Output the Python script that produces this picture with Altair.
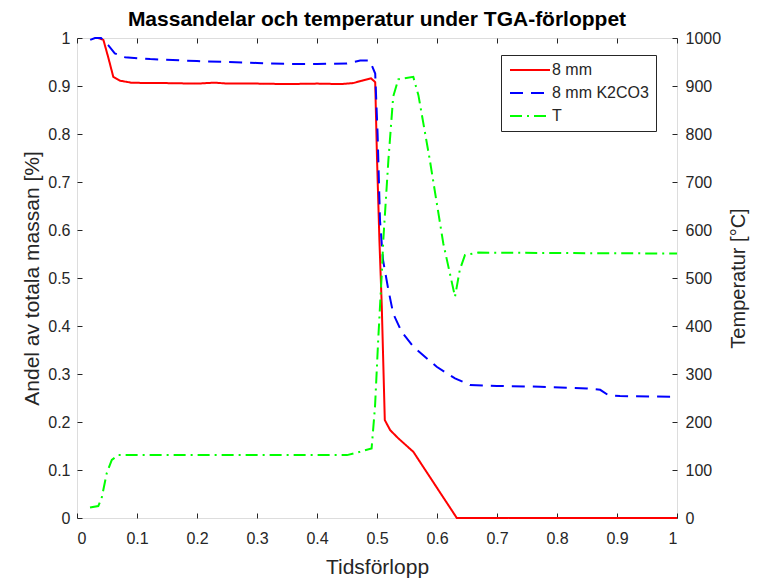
import altair as alt
import pandas as pd

# ---- data ----
time_8mm = [0.035, 0.044, 0.052, 0.0605, 0.072, 0.09, 0.12, 0.15, 0.2, 0.23, 0.25, 0.3, 0.35,
            0.4, 0.44, 0.46, 0.475, 0.49, 0.497, 0.500, 0.504, 0.508, 0.513, 0.522, 0.5355,
            0.5605, 0.633, 0.65, 0.8, 1.0]
mass_8mm = [1.0, 0.996, 0.96, 0.919, 0.911, 0.907, 0.906, 0.906, 0.905, 0.907, 0.905, 0.905, 0.904,
            0.905, 0.904, 0.906, 0.911, 0.916, 0.908, 0.75, 0.579, 0.44, 0.204, 0.183, 0.166,
            0.138, 0.0, 0.0, 0.0, 0.0]

time_k2co3 = [0.022, 0.03, 0.04, 0.052, 0.063, 0.08, 0.122, 0.2, 0.25, 0.3, 0.35, 0.4, 0.45,
              0.472, 0.488, 0.497, 0.501, 0.505, 0.51, 0.519, 0.527, 0.541, 0.5605, 0.5995,
              0.63, 0.655, 0.7, 0.772, 0.85, 0.872, 0.8855, 0.905, 1.0]
mass_k2co3 = [0.996, 1.0, 1.0, 0.985, 0.968, 0.96, 0.956, 0.952, 0.95, 0.948, 0.946, 0.946, 0.947,
              0.953, 0.953, 0.926, 0.8, 0.62, 0.5375, 0.475, 0.426, 0.388, 0.357, 0.315,
              0.291, 0.277, 0.275, 0.2735, 0.27, 0.267, 0.256, 0.254, 0.2527]

time_T = [0.0217, 0.0355, 0.041, 0.0495, 0.058, 0.069, 0.2, 0.3, 0.45, 0.4717, 0.491, 0.4967,
          0.502, 0.508, 0.5105, 0.519, 0.527, 0.5355, 0.5605, 0.569, 0.588, 0.6105, 0.63,
          0.638, 0.6467, 0.669, 0.8, 1.0]
temp_T = [22, 25, 41, 93, 121, 131, 131, 131, 131, 138, 145, 232, 371, 510, 579, 746, 878, 914,
          919, 881, 746, 572, 461, 517, 548, 553, 552, 551]

series_names = ["8 mm", "8 mm K2CO3", "T"]
series_colors = ["#FF0000", "#0000FF", "#00FF00"]
series_dash = [[1, 0], [13, 8], [12, 5, 2, 5]]

x_ticks = [0, 0.1, 0.2, 0.3, 0.4, 0.5, 0.6, 0.7, 0.8, 0.9, 1]
y_ticks = [0, 0.1, 0.2, 0.3, 0.4, 0.5, 0.6, 0.7, 0.8, 0.9, 1]
t_ticks = [0, 100, 200, 300, 400, 500, 600, 700, 800, 900, 1000]

mass_df = pd.DataFrame({
    "t": time_8mm + time_k2co3,
    "v": mass_8mm + mass_k2co3,
    "s": [series_names[0]] * len(time_8mm) + [series_names[1]] * len(time_k2co3),
    "o": list(range(len(time_8mm))) + list(range(len(time_k2co3))),
})
temp_df = pd.DataFrame({
    "t": time_T,
    "v": temp_T,
    "s": [series_names[2]] * len(time_T),
    "o": list(range(len(time_T))),
})

FONT = "Liberation Sans"
TXT = "#262626"

color_enc = alt.Color(
    "s:N",
    scale=alt.Scale(domain=series_names, range=series_colors),
    legend=alt.Legend(
        title=None, orient="none", legendX=424, legendY=17,
        strokeColor=TXT, fillColor="white", padding=7, cornerRadius=0,
        labelFont=FONT, labelFontSize=16, labelColor=TXT,
        symbolType="M-4,0H4", symbolSize=100, symbolStrokeWidth=2,
        symbolOffset=14, labelOffset=14, rowPadding=7, labelLimit=200,
    ),
)
dash_enc = alt.StrokeDash(
    "s:N",
    scale=alt.Scale(domain=series_names, range=series_dash),
    legend=alt.Legend(title=None),
)

axis_common = dict(offset=-5, tickSize=5, domain=False, grid=False,
                   tickColor=TXT, labelColor=TXT, labelFont=FONT, labelFontSize=16,
                   titleFont=FONT, titleFontWeight="normal", titleColor=TXT)

mass_layer = alt.Chart(mass_df).mark_line(strokeWidth=2).encode(
    x=alt.X("t:Q", scale=alt.Scale(domain=[0, 1], nice=False),
            axis=alt.Axis(orient="bottom", values=x_ticks, title="Tidsförlopp", format="~g",
                          labelPadding=12, titlePadding=10, titleFontSize=21, **axis_common)),
    y=alt.Y("v:Q", scale=alt.Scale(domain=[0, 1], nice=False),
            axis=alt.Axis(orient="left", values=y_ticks, title="Andel av totala massan [%]",
                          format="~g", labelPadding=7, titlePadding=5, titleFontSize=21,
                          **axis_common)),
    color=color_enc,
    strokeDash=dash_enc,
    order="o:Q",
)

temp_layer = alt.Chart(temp_df).mark_line(strokeWidth=2).encode(
    x=alt.X("t:Q", scale=alt.Scale(domain=[0, 1], nice=False),
            axis=alt.Axis(orient="top", values=x_ticks, labels=False, title=None,
                          offset=-5, tickSize=5, domain=False, grid=False, tickColor=TXT)),
    y=alt.Y("v:Q", scale=alt.Scale(domain=[0, 1000], nice=False),
            axis=alt.Axis(orient="right", values=t_ticks, title="Temperatur [°C]",
                          format="d", titleAngle=270, titleBaseline="top",
                          labelPadding=8, titlePadding=8, titleFontSize=20, **axis_common)),
    color=color_enc,
    strokeDash=dash_enc,
    order="o:Q",
)

chart = alt.layer(mass_layer, temp_layer).resolve_scale(
    y="independent"
).resolve_axis(
    x="independent"
).properties(
    width=600, height=480,
    title=alt.TitleParams("Massandelar och temperatur under TGA-förloppet",
                          font=FONT, fontSize=21, fontWeight="bold", color="black",
                          offset=0, anchor="middle", frame="group"),
    autosize=alt.AutoSizeParams(type="none"),
    padding={"left": 69, "top": 30, "right": 73, "bottom": 62},
).configure_view(
    stroke=TXT, strokeWidth=1
).configure(background="white")

chart.save("out.html", embed_options={"renderer": "svg", "actions": False})
